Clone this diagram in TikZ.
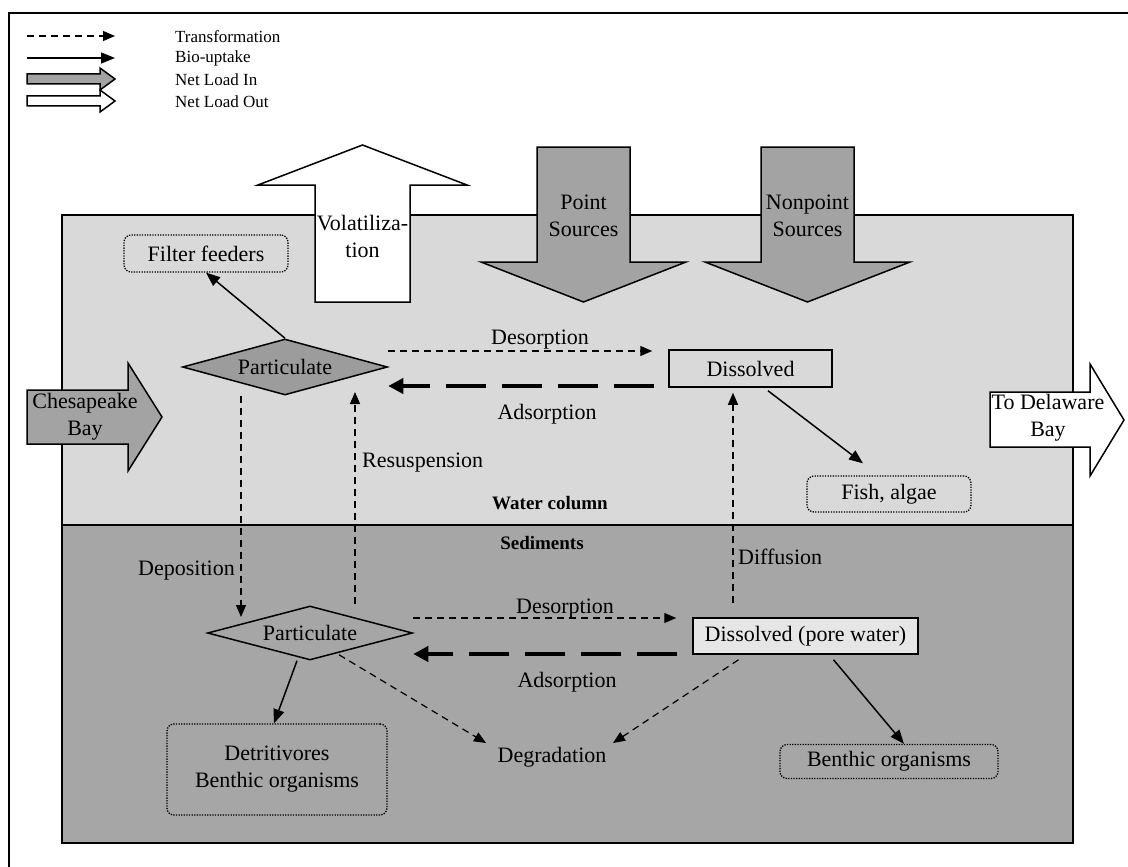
\documentclass[tikz,border=0pt]{standalone}
\usepackage{fontspec}
\setmainfont{Liberation Serif}
\usetikzlibrary{arrows.meta,shapes.geometric,calc}
\definecolor{watergray}{HTML}{D9D9D9}
\definecolor{sedgray}{HTML}{A6A6A6}
\definecolor{loadgray}{HTML}{A3A3A3}
\definecolor{partgray}{HTML}{9C9C9C}
\definecolor{porefill}{HTML}{E6E6E6}
\tikzset{
 transf/.style={line width=1.2pt, dash pattern=on 7pt off 5pt, -{Triangle[length=12pt,width=10pt]}},
 bio/.style={line width=1.5pt, -{Triangle[length=14pt,width=11pt]}},
 adsorb/.style={line width=4.5pt, dash pattern=on 40pt off 16pt, -{Triangle[length=15pt,width=15pt]}},
 orgbox/.style={draw, line width=1.3pt, dash pattern=on 1.3pt off 1.3pt, rounded corners=7pt, inner sep=0pt, align=center},
 poolbox/.style={draw, line width=1.5pt, inner sep=0pt},
 partd/.style={diamond, aspect=4, draw, line width=1.5pt, inner sep=0pt},
 loadarrow/.style={draw, line width=1.5pt, line join=miter},
 lbl/.style={inner sep=0pt, align=center},
 zone/.style={font=\fontsize{19}{21}\selectfont\bfseries, inner sep=0pt},
 legtext/.style={font=\fontsize{17}{20}\selectfont, anchor=west, inner sep=0pt},
}
\begin{document}
\begin{tikzpicture}[x=1pt,y=-1pt, every node/.append style={font=\fontsize{22}{27}\selectfont}]
\useasboundingbox (0,0) rectangle (1128,867);
\fill[white] (0,0) rectangle (1128,867);
% outer frame
\draw[line width=1.5pt] (9,870) -- (9,13) -- (1131,13);

% legend
\coordinate (l1a) at (27,36); \coordinate (l1b) at (115,36);
\coordinate (l2a) at (27,58); \coordinate (l2b) at (115,58);
\draw[transf] (l1a) -- (l1b);
\draw[bio] (l2a) -- (l2b);
\draw[loadarrow, fill=loadgray] (27,74) -- (100,74) -- (100,68) -- (115,79) -- (100,90) -- (100,84) -- (27,84) -- cycle;
\draw[loadarrow, fill=white] (27,96) -- (100,96) -- (100,90) -- (115,101) -- (100,112) -- (100,106) -- (27,106) -- cycle;
\node[legtext] (t1) at (175,37) {Transformation};
\node[legtext] (t2) at (175,58) {Bio-uptake};
\node[legtext] (t3) at (175,80) {Net Load In};
\node[legtext] (t4) at (175,102) {Net Load Out};

% compartments
\fill[watergray] (62,215) rectangle (1073,525);
\fill[sedgray] (62,525) rectangle (1073,843);
\draw[line width=1.5pt] (62,215) rectangle (1073,843);
\draw[line width=1.5pt] (62,525) -- (1073,525);

% load arrows
\draw[loadarrow, fill=white] (315,302) -- (315,185) -- (258,185) -- (362.5,145) -- (467,185) -- (410,185) -- (410,302) -- cycle;
\node[lbl] (vol) at (362.5,236) {Volatiliza-\\tion};
\draw[loadarrow, fill=loadgray] (537,147) -- (630,147) -- (630,262) -- (686,262) -- (583.5,302) -- (481,262) -- (537,262) -- cycle;
\node[lbl] (ps) at (583.5,216) {Point\\Sources};
\draw[loadarrow, fill=loadgray] (761,147) -- (854,147) -- (854,262) -- (910,262) -- (807.5,302) -- (705,262) -- (761,262) -- cycle;
\node[lbl] (nps) at (807.5,216) {Nonpoint\\Sources};
\draw[loadarrow, fill=loadgray] (27,390) -- (128,390) -- (128,363) -- (162,417) -- (128,471) -- (128,444) -- (27,444) -- cycle;
\node[lbl] (cb) at (85,417) {Chesapeake\\Bay};
\draw[loadarrow, fill=white] (990,392) -- (1090,392) -- (1090,364) -- (1124,420) -- (1090,476) -- (1090,447) -- (990,447) -- cycle;
\node[lbl] (db) at (1048,418) {To Delaware\\Bay};

% water column nodes
\node[orgbox, minimum width=164pt, minimum height=37pt] (ff) at (206,253.5) {Filter feeders};
\node[partd, fill=partgray, minimum width=205pt, minimum height=56pt] (p1) at (285,367) {Particulate};
\node[poolbox, fill=watergray, minimum width=163pt, minimum height=37pt] (d1) at (750.5,368.5) {Dissolved};
\node[orgbox, minimum width=164pt, minimum height=36pt] (fish) at (889,494) {Fish, algae};

% sediment nodes
\node[partd, fill=sedgray, minimum width=205pt, minimum height=54pt] (p2) at (310,633) {Particulate};
\node[poolbox, fill=porefill, minimum width=225pt, minimum height=36pt] (d2) at (805.5,636) {Dissolved (pore water)};
\node[orgbox, minimum width=220pt, minimum height=91pt] (det) at (277,769.5) {Detritivores\\Benthic organisms};
\node[lbl] (deg) at (552,757) {Degradation};
\node[orgbox, minimum width=218pt, minimum height=34pt] (ben) at (889,761.5) {Benthic organisms};

% zone labels
\node[zone] (wc) at (550,503) {Water column};
\node[zone] (sd) at (542,543) {Sediments};

% water column connectors
\draw[bio] (p1.north) -- (ff.south);
\draw[transf] ($(p1.east)+(0,-16)$) -- ($(d1.west)+(-16,-17.5)$);
\draw[adsorb] ($(d1.west)+(-14,17.5)$) -- ($(p1.east)+(0,19)$);
\draw[bio] ($(d1.south)+(17.5,3)$) -- ($(fish.north)+(-26,-12)$);
\node[lbl] (des1) at (540,340) {Desorption};
\node[lbl] (ads1) at (547,414) {Adsorption};

% vertical exchanges
\draw[transf] ($(p1.south)+(-44,0)$) -- ($(p2.center)+(-69,-16)$);
\draw[transf] ($(p2.center)+(45,-29)$) -- ($(p1.center)+(70,25)$);
\draw[transf] ($(d2.north)+(-72.5,-14)$) -- ($(d1.south)+(-17.5,5)$);
\node[lbl, anchor=east] (dep) at (235,571) {Deposition};
\node[lbl, anchor=west] (res) at (362,463) {Resuspension};
\node[lbl, anchor=west] (dif) at (738,557) {Diffusion};

% sediment connectors
\draw[transf] ($(p2.east)+(0,-15)$) -- ($(d2.west)+(-16,-18)$);
\draw[adsorb] ($(d2.west)+(-15,18)$) -- ($(p2.east)+(0,21)$);
\node[lbl] (des2) at (565,609) {Desorption};
\node[lbl] (ads2) at (567,682) {Adsorption};
\draw[bio] ($(p2.south)+(-13,0)$) -- ($(det.north)+(-3,0)$);
\draw[transf] ($(p2.south)+(29,-6)$) -- ($(deg.center)+(-66,-14)$);
\draw[transf] ($(d2.south)+(-67,5)$) -- ($(deg.center)+(61,-14)$);
\draw[bio] ($(d2.south)+(28,5)$) -- ($(ben.north)+(15,0)$);
\end{tikzpicture}
\end{document}
